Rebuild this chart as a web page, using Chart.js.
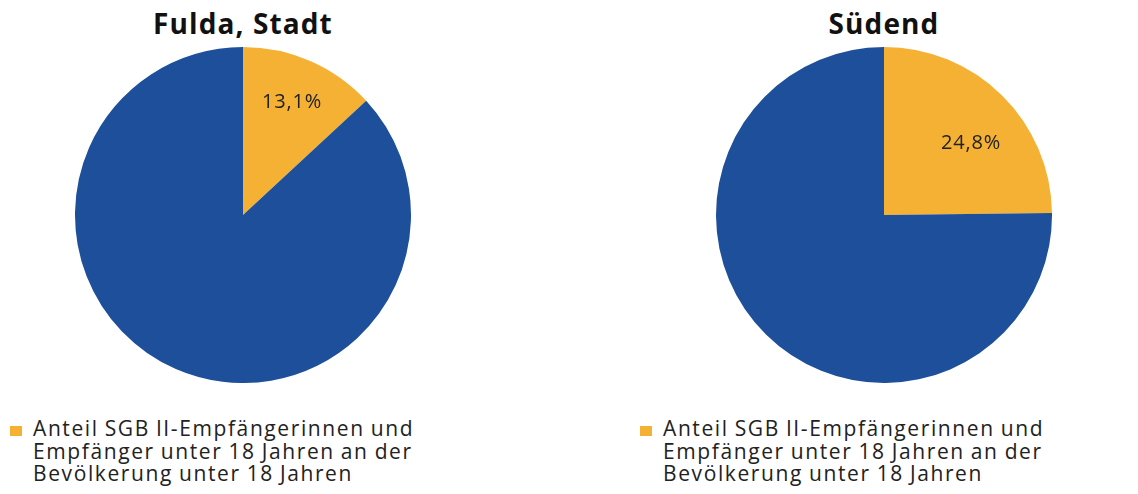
<!DOCTYPE html>
<html><head><meta charset="utf-8">
<script src="https://cdn.jsdelivr.net/npm/chart.js@4/dist/chart.umd.min.js"></script>
<style>
body{margin:0;background:#fff;width:1138px;height:494px;position:relative;overflow:hidden;font-family:"Open Sans",sans-serif;}
.title{position:absolute;top:4px;width:300px;text-align:center;font-weight:700;font-size:28px;letter-spacing:1.1px;color:#111;}
canvas{position:absolute;}
.legend{position:absolute;top:417px;font-size:21px;line-height:22.5px;color:#222;letter-spacing:1.6px;word-spacing:-1px;white-space:nowrap;}
.legend .sq{position:absolute;left:-23px;top:9px;width:12px;height:10px;background:#f4b133;}
</style></head><body>
<script>
const titles = ["Fulda, Stadt", "Südend"];
const categories = ["Anteil SGB II-Empfängerinnen und Empfänger unter 18 Jahren an der Bevölkerung unter 18 Jahren", "Übrige"];
const fuldaValues = [13.1, 86.9];
const suedendValues = [24.8, 75.2];
const valueLabels = ["13,1%", "24,8%"];
const colors = ["#f4b133", "#1d4f9a"];

const panels = [
  {values: fuldaValues, title: titles[0], label: valueLabels[0], cx: 243, legendLeft: 33, lr: 0.73, la: 0},
  {values: suedendValues, title: titles[1], label: valueLabels[1], cx: 884, legendLeft: 663, lr: 0.67, la: 6}
];
const R = 168, CY = 215;

const labelPlugin = {
  id: 'lbl',
  afterDatasetsDraw(chart, args, opts) {
    const arc = chart.getDatasetMeta(0).data[0];
    const mid = (arc.startAngle + arc.endAngle) / 2 + opts.la * Math.PI / 180;
    const r = arc.outerRadius * opts.lr;
    const x = arc.x + Math.cos(mid) * r;
    const y = arc.y + Math.sin(mid) * r;
    const ctx = chart.ctx;
    ctx.save();
    ctx.font = '20px "Open Sans", sans-serif';
    if ('letterSpacing' in ctx) ctx.letterSpacing = '0.8px';
    ctx.fillStyle = '#222';
    ctx.textAlign = 'center';
    ctx.textBaseline = 'middle';
    ctx.fillText(opts.text, x, y);
    ctx.restore();
  }
};

panels.forEach(p => {
  const t = document.createElement('div');
  t.className = 'title';
  t.style.left = (p.cx - 150) + 'px';
  t.textContent = p.title;
  document.body.appendChild(t);

  const c = document.createElement('canvas');
  c.width = 2 * R; c.height = 2 * R;
  c.style.left = (p.cx - R) + 'px';
  c.style.top = (CY - R) + 'px';
  document.body.appendChild(c);

  new Chart(c, {
    type: 'pie',
    data: {labels: categories, datasets: [{data: p.values, backgroundColor: colors, borderWidth: 0}]},
    options: {
      responsive: false, animation: false,
      layout: {padding: 0},
      plugins: {legend: {display: false}, tooltip: {enabled: false}, lbl: {text: p.label, lr: p.lr, la: p.la}}
    },
    plugins: [labelPlugin]
  });

  const l = document.createElement('div');
  l.className = 'legend';
  l.style.left = p.legendLeft + 'px';
  l.innerHTML = '<span class="sq"></span>Anteil SGB II-Empfängerinnen und<br>Empfänger unter 18 Jahren an der<br>Bevölkerung unter 18 Jahren';
  document.body.appendChild(l);
});
</script>
</body></html>
